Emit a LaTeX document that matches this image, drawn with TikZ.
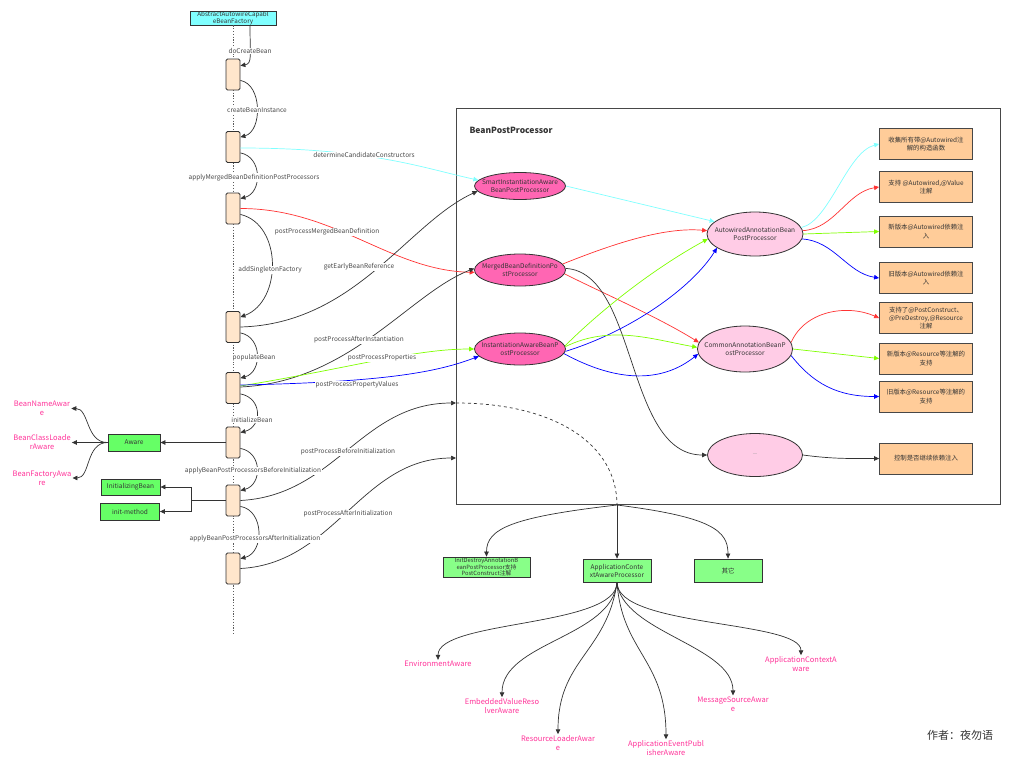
\documentclass[tikz,border=0pt]{standalone}
\usepackage{fontspec}
\setmainfont{Noto Sans CJK SC}
\usetikzlibrary{arrows.meta,shapes.geometric,calc}
\definecolor{cyanbox}{HTML}{80FFFF}
\definecolor{actc}{HTML}{FFE6CC}
\definecolor{pinkc}{HTML}{FF66B3}
\definecolor{lpinkc}{HTML}{FFCCE6}
\definecolor{orangec}{HTML}{FFCC99}
\definecolor{greenc}{HTML}{66FF66}
\definecolor{lgreenc}{HTML}{88FF88}
\definecolor{awc}{HTML}{FF3399}
\definecolor{lcyan}{HTML}{80FFFF}
\definecolor{lred}{HTML}{FF3333}
\definecolor{lgreen}{HTML}{80FF00}
\definecolor{lblue}{HTML}{0000FF}
\definecolor{dk}{HTML}{333333}
\begin{document}
\begin{tikzpicture}[x=1pt,y=1pt,
  lbl/.style={font=\fontsize{6.5}{7.5}\selectfont, text=dk!90, fill=white, inner sep=0.6pt},
  act/.style={draw=dk, fill=actc, rounded corners=1.5pt, minimum width=14pt, minimum height=31pt, inner sep=0pt, line width=0.8pt},
  ell/.style={ellipse, draw=dk, line width=0.8pt, font=\fontsize{6.5}{8}\selectfont, text=dk, align=center, inner xsep=-7pt, inner ysep=0pt},
  pinkE/.style={ell, fill=pinkc, minimum width=91pt},
  lpinkE/.style={ell, fill=lpinkc, minimum width=96pt, minimum height=44pt},
  obox/.style={draw=dk!90, fill=orangec, minimum width=93pt, minimum height=31pt, inner sep=1pt, align=center, font=\fontsize{6.4}{8.5}\selectfont, text=dk, line width=0.8pt},
  gbox/.style={draw=dk, fill=greenc, line width=0.8pt, font=\fontsize{6.5}{8}\selectfont, text=dk, inner sep=0pt},
  lgbox/.style={draw=dk, fill=lgreenc, line width=0.8pt, font=\fontsize{6.5}{8}\selectfont, text=dk, inner sep=0pt, align=center},
  awlbl/.style={text=awc, font=\fontsize{7.5}{9}\selectfont, align=center, inner sep=1pt},
  arr/.style={-{Triangle[length=5pt,width=4.5pt]}, line width=0.7pt},
  conn/.style={arr, draw=dk}
]
\useasboundingbox (0,0) rectangle (1024,-771);
\fill[white] (0,0) rectangle (1024,-771);

% ---------------- lifeline ----------------
\node[draw=dk, fill=cyanbox, line width=0.8pt, minimum width=86pt, minimum height=14pt, inner sep=0pt,
      align=center, font=\fontsize{6.3}{7}\selectfont, text=dk] (t) at (233,-18) {AbstractAutowireCapabl\\eBeanFactory};
\coordinate (lend) at (233,-635);
\draw[dk!80, line width=1pt, dash pattern=on 1.2pt off 1.6pt] (t.south) -- (lend);

\node[act] (a1) at (233,-74.5) {};
\node[act] (a2) at (233,-147) {};
\node[act] (a3) at (233,-208.5) {};
\node[act] (a4) at (233,-327) {};
\node[act] (a5) at (233,-388) {};
\node[act] (a6) at (233,-442.5) {};
\node[act] (a7) at (233,-500.5) {};
\node[act] (a8) at (233,-568.5) {};

% self calls
\draw[conn] ($(t.south)+(17,0)$) .. controls +(0,-30) and +(12,2) .. ($(a1.north east)+(0,-7)$);
\draw[conn] ($(a1.south east)+(0,10)$) .. controls +(22,-4) and +(22,6) .. ($(a2.north east)+(0,-6)$);
\draw[conn] ($(a2.south east)+(0,10)$) .. controls +(22,-4) and +(22,6) .. ($(a3.north east)+(0,-6)$);
\draw[conn] ($(a3.south east)+(0,10)$) .. controls +(42,-10) and +(42,16) .. ($(a4.north east)+(0,-6)$);
\draw[conn] ($(a4.south east)+(0,10)$) .. controls +(22,-4) and +(22,6) .. ($(a5.north east)+(0,-6)$);
\draw[conn] ($(a5.south east)+(0,10)$) .. controls +(22,-4) and +(22,6) .. ($(a6.north east)+(0,-6)$);
\draw[conn] ($(a6.south east)+(0,10)$) .. controls +(22,-4) and +(22,6) .. ($(a7.north east)+(0,-6)$);
\draw[conn] ($(a7.south east)+(0,10)$) .. controls +(24,-4) and +(24,6) .. ($(a8.north east)+(0,-6)$);

% ---------------- BeanPostProcessor frame ----------------
\node[draw=dk!90, line width=1pt, minimum width=544pt, minimum height=396pt, anchor=north west, inner sep=0pt] (frame) at (456,-108) {};
\node[anchor=west, font=\bfseries\fontsize{8.5}{10}\selectfont, text=dk] (ftitle) at (466,-130) {BeanPostProcessor};
\coordinate (bpin) at (456,-403);
\coordinate (apin) at (456,-458);
\coordinate (hub) at (617,-505);

\node[pinkE, minimum height=27pt] (s1) at (520,-186) {SmartInstantiationAware\\BeanPostProcessor};
\node[pinkE, minimum height=32pt] (s2) at (520,-270) {MergedBeanDefinitionPo\\stProcessor};
\node[pinkE, minimum height=32pt] (s3) at (520,-349) {InstantiationAwareBeanP\\ostProcessor};
\node[lpinkE] (aw) at (755,-234) {AutowiredAnnotationBean\\PostProcessor};
\node[lpinkE, minimum width=95pt, minimum height=46pt] (co) at (745,-349) {CommonAnnotationBeanP\\ostProcessor};
\node[lpinkE, minimum width=95pt, minimum height=43pt, font=\fontsize{5}{6}\selectfont, text=dk!50] (th) at (755,-455) {—};

\node[obox] (o1) at (926,-144) {收集所有带@Autowired注\\解的构造函数};
\node[obox] (o2) at (926,-187) {支持 @Autowired,@Value\\注解};
\node[obox] (o3) at (926,-231.5) {新版本@Autowired依赖注\\入};
\node[obox] (o4) at (926,-278) {旧版本@Autowired依赖注\\入};
\node[obox, font=\fontsize{6.4}{7.8}\selectfont] (o5) at (926,-318) {支持了@PostConstruct、\\@PreDestroy,@Resource\\注解};
\node[obox] (o6) at (926,-358.5) {新版本@Resource等注解的\\支持};
\node[obox] (o7) at (926,-396.5) {旧版本@Resource等注解的\\支持};
\node[obox] (o8) at (926,-458.5) {控制是否继续依赖注入};

% inner connectors
\draw[arr, lcyan] (s1.east) -- (aw.163);
\draw[arr, lred] (s2.8) .. controls +(45,18) and +(-45,4) .. (aw.176);
\draw[arr, lred] (s2.-5) .. controls +(40,-20) and +(-40,25) .. (co.172);
\draw[arr, dk] (s2.2) .. controls +(72,-4) and +(-82,0) .. (th.west);
\draw[arr, lgreen] (s3.4) .. controls +(35,35) and +(-55,-30) .. (aw.186);
\draw[arr, lblue] (s3.-3) .. controls +(65,20) and +(-25,-40) .. (aw.200);
\draw[arr, lgreen] (s3.3) .. controls +(45,22) and +(-45,8) .. (co.178);
\draw[arr, lblue] (s3.-6) .. controls +(55,-30) and +(-35,-28) .. (co.186);

\draw[arr, lcyan] (aw.8) .. controls +(28,6) and +(-32,-8) .. (o1.west);
\draw[arr, lred] (aw.4) .. controls +(32,2) and +(-32,-5) .. (o2.west);
\draw[arr, lgreen] (aw.0) -- (o3.west);
\draw[arr, lblue] (aw.-6) .. controls +(32,-2) and +(-32,5) .. (o4.west);
\draw[arr, lred] (co.8) .. controls +(14,32) and +(-32,14) .. (o5.west);
\draw[arr, lgreen] (co.0) -- (o6.west);
\draw[arr, lblue] (co.-8) .. controls +(22,-28) and +(-42,0) .. (o7.west);
\draw[arr, dk] (th.east) .. controls +(30,-4) and +(-30,0) .. (o8.west);

% ---------------- calls from lifeline ----------------
\draw[arr, lcyan] ($(a2.east)+(0,-1)$) .. controls +(130,0) and +(-55,12) .. (s1.172);
\draw[arr, lred] ($(a3.east)+(0,0)$) .. controls +(95,0) and +(-85,2) .. (s2.183);
\draw[arr, dk] (a4.east) .. controls +(115,3) and +(-70,-32) .. (s1.187);
\draw[arr, dk] ($(a5.east)+(0,1)$) .. controls +(110,5) and +(-65,-25) .. (s2.178);
\draw[arr, lgreen] ($(a5.east)+(0,2)$) .. controls +(110,18) and +(-60,0) .. (s3.west);
\draw[arr, lblue] ($(a5.east)+(0,3)$) .. controls +(150,3) and +(-40,-15) .. (s3.190);
\draw[arr, dk] (a7.east) .. controls +(95,5) and +(-95,0) .. (bpin);
\draw[arr, dk] (a8.east) .. controls +(95,5) and +(-95,0) .. (apin);

\node[lbl] at (250,-51) {doCreateBean};
\node[lbl] at (257,-110) {createBeanInstance};
\node[lbl] at (254,-177.5) {applyMergedBeanDefinitionPostProcessors};
\node[lbl] at (270,-270) {addSingletonFactory};
\node[lbl] at (254,-358) {populateBean};
\node[lbl] at (252,-419.5) {initializeBean};
\node[lbl] at (253,-471) {applyBeanPostProcessorsBeforeInitialization};
\node[lbl] at (255,-539) {applyBeanPostProcessorsAfterInitialization};
\node[lbl] at (364,-155) {determineCandidateConstructors};
\node[lbl] at (327,-232) {postProcessMergedBeanDefinition};
\node[lbl] at (359,-267) {getEarlyBeanReference};
\node[lbl] at (359,-340) {postProcessAfterInstantiation};
\node[lbl] at (382,-358) {postProcessProperties};
\node[lbl] at (357,-384.5) {postProcessPropertyValues};
\node[lbl] at (348,-452) {postProcessBeforeInitialization};
\node[lbl] at (348,-514) {postProcessAfterInitialization};

% ---------------- left side ----------------
\node[gbox, minimum width=52pt, minimum height=17pt] (awr) at (134,-442.5) {Aware};
\draw[conn] (a6.west) -- (awr.east);
\node[awlbl] (bna) at (42,-408.5) {BeanNameAwar\\e};
\node[awlbl] (bcl) at (42,-442.5) {BeanClassLoade\\rAware};
\node[awlbl] (bfa) at (42,-478) {BeanFactoryAwa\\re};
\draw[conn] (awr.west) .. controls +(-22,0) and +(18,0) .. (bna.east);
\draw[conn] (awr.west) -- (bcl.east);
\draw[conn] (awr.west) .. controls +(-22,0) and +(18,0) .. (bfa.east);

\node[gbox, minimum width=59pt, minimum height=16pt] (ib) at (130.5,-487) {InitializingBean};
\node[gbox, minimum width=59pt, minimum height=17pt] (im) at (130,-511.5) {init-method};
\draw[dk, line width=0.7pt] (a7.west) -- ++(-34,0) coordinate (jn);
\draw[conn] (jn) |- (ib.east);
\draw[conn] (jn) |- (im.east);

% ---------------- bottom ----------------
\draw[dk, line width=0.7pt, dashed] (bpin) .. controls +(100,0) and +(0,60) .. (hub);
\node[lgbox, minimum width=87pt, minimum height=20pt, font=\fontsize{5.8}{6.6}\selectfont] (idb) at (486.5,-567) {InitDestroyAnnotationB\\eanPostProcessor支持\\PostConstruct注解};
\node[lgbox, minimum width=68pt, minimum height=23pt] (ac) at (617,-570.5) {ApplicationConte\\xtAwareProcessor};
\node[lgbox, minimum width=68pt, minimum height=23pt] (ot) at (728,-570.5) {其它};
\draw[conn] (hub) .. controls +(-105,-12) and +(0,28) .. (idb.north);
\draw[conn] (hub) -- (ac.north);
\draw[conn] (hub) .. controls +(95,-12) and +(0,28) .. (ot.north);

\node[awlbl] (env) at (438,-664) {EnvironmentAware};
\node[awlbl] (emb) at (502,-706) {EmbeddedValueReso\\lverAware};
\node[awlbl] (rla) at (558,-743) {ResourceLoaderAwar\\e};
\node[awlbl] (aep) at (666,-748) {ApplicationEventPubl\\isherAware};
\node[awlbl] (msa) at (733,-704) {MessageSourceAwar\\e};
\node[awlbl] (aca) at (801,-664) {ApplicationContextA\\ware};
\draw[conn] (ac.south) .. controls +(0,-45) and +(0,40) .. (env.north);
\draw[conn] (ac.south) .. controls +(-5,-55) and +(0,55) .. (emb.north);
\draw[conn] (ac.south) .. controls +(-10,-70) and +(0,75) .. (rla.north);
\draw[conn] (ac.south) .. controls +(5,-70) and +(0,80) .. (aep.north);
\draw[conn] (ac.south) .. controls +(5,-50) and +(0,50) .. (msa.north);
\draw[conn] (ac.south) .. controls +(0,-45) and +(0,35) .. (aca.north);

\node[font=\fontsize{11}{13}\selectfont, text=dk] (author) at (960,-735) {作者：夜勿语};
\end{tikzpicture}
\end{document}
